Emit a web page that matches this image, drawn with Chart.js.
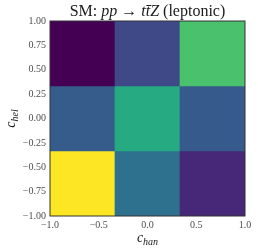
<!DOCTYPE html>
<html>
<head>
<meta charset="utf-8">
<script src="https://cdn.jsdelivr.net/npm/chart.js@4"></script>
<style>
  html, body { margin: 0; padding: 0; background: #fff; }
  #caja { width: 258px; height: 249px; }
</style>
</head>
<body>
<div id="caja"><canvas id="chartMapa"></canvas></div>
<script>
// === Datos del mapa (bordes de celdas y valores normalizados) ===
const bordesX = [-1, -1 / 3, 1 / 3, 1];
const bordesY = [-1, -1 / 3, 1 / 3, 1];
const columnas = ["c1", "c2", "c3"];
const filaInferior = [1.00, 0.37, 0.11];
const filaMedia = [0.29, 0.61, 0.28];
const filaSuperior = [0.00, 0.22, 0.71];
const ticksX = [-1.0, -0.5, 0.0, 0.5, 1.0];
const ticksY = [-1.00, -0.75, -0.50, -0.25, 0.00, 0.25, 0.50, 0.75, 1.00];

// === Paleta viridis ===
const viridis = ["#440154", "#482475", "#414487", "#355f8d", "#2a788e", "#21918c",
  "#22a884", "#44bf70", "#7ad151", "#bddf26", "#fde725"];

function colorViridis(v) {
  const t = Math.max(0, Math.min(1, v)) * (viridis.length - 1);
  const i = Math.min(Math.floor(t), viridis.length - 2);
  const f = t - i;
  const a = viridis[i], b = viridis[i + 1];
  const canal = k => {
    const ca = parseInt(a.substr(1 + 2 * k, 2), 16);
    const cb = parseInt(b.substr(1 + 2 * k, 2), 16);
    return Math.round(ca + (cb - ca) * f);
  };
  return "rgb(" + canal(0) + "," + canal(1) + "," + canal(2) + ")";
}

const filas = [filaInferior, filaMedia, filaSuperior];
const celdas = [];
filas.forEach((fila, r) => {
  fila.forEach((v, c) => {
    celdas.push({ x: columnas[c], y: [bordesY[r], bordesY[r + 1]], v: v });
  });
});

const serif = "'Liberation Serif', 'DejaVu Serif', serif";
const gris = "#4d4d4d";
const menos = v => v.replace("-", "\u2212");

// === Textos con cursiva (titulo y ejes) ===
function dibujarTramos(ctx, tramos, x, y) {
  let ancho = 0;
  tramos.forEach(t => { ctx.font = t.f; ancho += ctx.measureText(t.s).width; });
  let cx = x - ancho / 2;
  tramos.forEach(t => {
    ctx.font = t.f;
    ctx.fillText(t.s, cx, y + (t.dy || 0));
    cx += ctx.measureText(t.s).width;
  });
}

const textos = {
  id: "textos",
  afterDraw(chart) {
    const { ctx, chartArea } = chart;
    const mx = (chartArea.left + chartArea.right) / 2;
    const my = (chartArea.top + chartArea.bottom) / 2;
    ctx.save();
    ctx.fillStyle = "#1a1a1a";
    ctx.textBaseline = "alphabetic";
    ctx.textAlign = "left";
    dibujarTramos(ctx, [
      { s: "SM: ", f: "16px " + serif },
      { s: "pp", f: "italic 16px " + serif },
      { s: " \u2192 ", f: "16px " + serif },
      { s: "tt\u0304Z", f: "italic 16px " + serif },
      { s: " (leptonic)", f: "16px " + serif }
    ], mx, 16);
    dibujarTramos(ctx, [
      { s: "c", f: "italic 14px " + serif },
      { s: "han", f: "italic 10px " + serif, dy: 3 }
    ], mx, 242);
    ctx.translate(15, my);
    ctx.rotate(-Math.PI / 2);
    dibujarTramos(ctx, [
      { s: "c", f: "italic 14px " + serif },
      { s: "hel", f: "italic 10px " + serif, dy: 3 }
    ], 0, 0);
    ctx.restore();
  },
  afterDatasetsDraw(chart) {
    const { ctx, chartArea } = chart;
    ctx.save();
    ctx.strokeStyle = "#333";
    ctx.lineWidth = 1;
    ctx.strokeRect(chartArea.left, chartArea.top,
      chartArea.right - chartArea.left, chartArea.bottom - chartArea.top);
    ctx.restore();
  }
};

new Chart(document.getElementById("chartMapa"), {
  type: "bar",
  data: {
    labels: columnas,
    datasets: [{
      data: celdas,
      backgroundColor: celdas.map(c => colorViridis(c.v)),
      borderWidth: 0,
      barPercentage: 1,
      categoryPercentage: 1
    }]
  },
  options: {
    responsive: true,
    maintainAspectRatio: false,
    animation: false,
    events: [],
    layout: { padding: { top: 21, right: 13, left: 0, bottom: 0 } },
    plugins: {
      legend: { display: false },
      tooltip: { enabled: false }
    },
    scales: {
      x: { type: "category", labels: columnas, display: false, offset: true },
      xTicks: {
        type: "linear",
        position: "bottom",
        min: -1,
        max: 1,
        offset: false,
        afterBuildTicks: s => { s.ticks = ticksX.map(v => ({ value: v })); },
        afterFit: s => { s.height = 33; },
        grid: { display: false, drawTicks: false, offset: false },
        border: { display: false },
        ticks: {
          color: gris,
          padding: 3,
          maxRotation: 0,
          font: { family: serif, size: 10 },
          callback: v => menos(v.toFixed(1))
        }
      },
      y: {
        type: "linear",
        min: -1,
        max: 1,
        offset: false,
        afterBuildTicks: s => { s.ticks = ticksY.map(v => ({ value: v })); },
        afterFit: s => { s.width = 50; },
        grid: { display: false, drawTicks: false },
        border: { display: false },
        ticks: {
          color: gris,
          padding: 4,
          font: { family: serif, size: 10 },
          callback: v => menos(v.toFixed(2))
        }
      }
    }
  },
  plugins: [textos]
});
</script>
</body>
</html>
